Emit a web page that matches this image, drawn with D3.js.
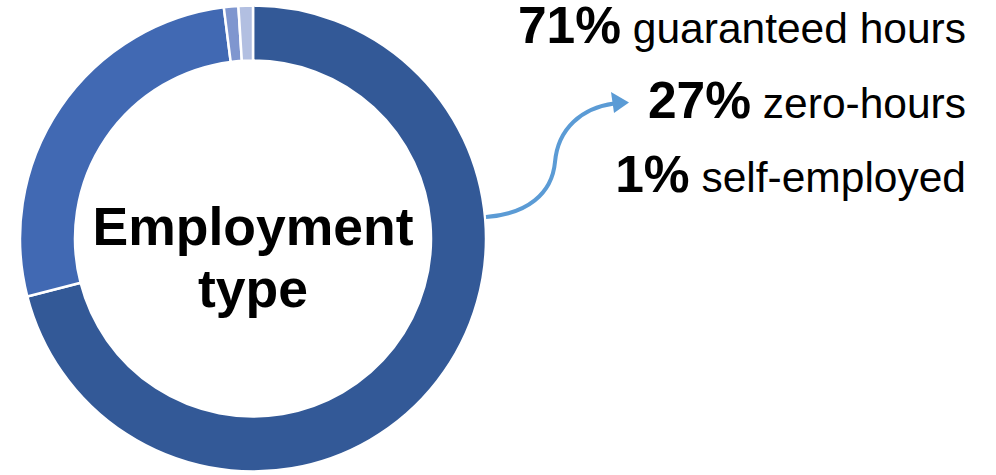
<!DOCTYPE html>
<html>
<head>
<meta charset="utf-8">
<script src="https://cdn.jsdelivr.net/npm/d3@7"></script>
<style>
  html, body { margin: 0; padding: 0; background: #fff; }
  svg { display: block; font-family: "Liberation Sans", Arial, sans-serif; }
</style>
</head>
<body>
<svg id="chart" width="996" height="475"></svg>
<script>
// Employment type shares (percent), in drawing order clockwise from 12 o'clock
const categories = ["guaranteed hours", "zero-hours", "self-employed", "other"];
const shares = [71, 27, 1, 1];
const colors = ["#335997", "#4169B3", "#7F96CF", "#B2BFE1"];
// Categories listed in the text block on the right
const labelled = ["guaranteed hours", "zero-hours", "self-employed"];
const centerTitle = ["Employment", "type"];

const svg = d3.select("#chart");
const cx = 253, cy = 238.5, rOuter = 233, rInner = 178;

const data = categories.map((c, i) => ({ name: c, value: shares[i], color: colors[i] }));

const pie = d3.pie().sort(null).value(d => d.value).startAngle(0).endAngle(2 * Math.PI);
const arc = d3.arc().innerRadius(rInner).outerRadius(rOuter);

const g = svg.append("g").attr("transform", `translate(${cx},${cy})`);
g.selectAll("path.slice")
  .data(pie(data))
  .join("path")
  .attr("class", "slice")
  .attr("d", arc)
  .attr("fill", d => d.data.color)
  .attr("stroke", "#fff")
  .attr("stroke-width", 2.5)
  .attr("stroke-linejoin", "miter");

// Title in the hole
g.append("text")
  .attr("text-anchor", "middle")
  .attr("font-weight", "bold")
  .attr("font-size", 53.5)
  .attr("fill", "#000")
  .selectAll("tspan")
  .data(centerTitle)
  .join("tspan")
  .attr("x", 0)
  .attr("y", (d, i) => 6 + i * 62)
  .text(d => d);

// Value labels, right aligned
const rowY = d3.scalePoint().domain(labelled).range([43, 192]);
const labels = svg.append("g");
labelled.forEach(name => {
  const d = data.find(e => e.name === name);
  const t = labels.append("text")
    .attr("x", 966)
    .attr("y", rowY(name))
    .attr("text-anchor", "end")
    .attr("fill", "#000");
  t.append("tspan").attr("font-weight", "bold").attr("font-size", 51.5).text(d.value + "%");
  t.append("tspan").attr("font-size", 42.5).text("\u00a0" + d.name);
});

// Curved arrow from the ring to the zero-hours label
svg.append("path")
  .attr("d", "M486,217 C527,214 552,194 555,162 C558,128 582,108 614,103.5")
  .attr("fill", "none")
  .attr("stroke", "#5B9BD5")
  .attr("stroke-width", 4);
svg.append("path")
  .attr("d", "M629,102.5 L611,92 L614,113 Z")
  .attr("fill", "#5B9BD5");
</script>
</body>
</html>
